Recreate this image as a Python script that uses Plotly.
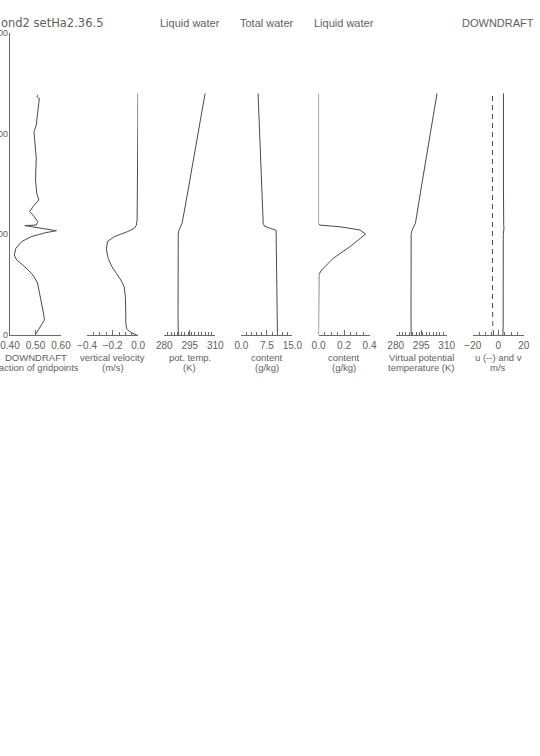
import plotly.graph_objects as go

W, H = 540, 756

# ---------------- data ----------------
# Panel 1: DOWNDRAFT fraction of gridpoints
z_frac = [0, 80, 150, 220, 380, 516, 596, 695, 745, 794, 861, 927, 977, 1017, 1036,
          1087, 1092, 1126, 1192, 1225, 1275, 1341, 1407, 1539, 1755, 1937, 2019,
          2085, 2218, 2317, 2350, 2370, 2384]
frac = [0.499, 0.520, 0.535, 0.531, 0.520, 0.508, 0.490, 0.451, 0.426, 0.417, 0.423,
        0.445, 0.483, 0.541, 0.582, 0.458, 0.503, 0.509, 0.490, 0.477, 0.490, 0.513,
        0.505, 0.500, 0.503, 0.496, 0.494, 0.503, 0.509, 0.515, 0.515, 0.505, 0.511]

# Panel 2: vertical velocity (m/s)
z_w = [0, 20, 60, 120, 215, 380, 480, 546, 620, 678, 760, 850, 930, 976, 1000, 1026,
       1060, 1090, 1142, 1400, 1800, 2100, 2400]
w = [-0.010, -0.050, -0.090, -0.097, -0.097, -0.100, -0.110, -0.136, -0.175, -0.205,
     -0.235, -0.249, -0.240, -0.188, -0.140, -0.085, -0.030, -0.014, -0.008, -0.005,
     -0.003, -0.002, -0.001]

# Panel 3: potential temperature (K)
z_th = [0, 30, 200, 600, 1000, 1040, 1070, 1110, 1400, 1800, 2100, 2400]
theta = [288.6, 288.2, 288.1, 288.1, 288.2, 288.6, 289.6, 290.5, 293.6, 297.7, 300.9, 304.0]

# Panel 4: total water content (g/kg)
z_qt = [0, 300, 600, 1000, 1040, 1060, 1080, 1110, 1400, 1800, 2100, 2400]
qt = [10.6, 10.5, 10.5, 10.4, 10.2, 8.5, 6.8, 6.4, 6.1, 5.6, 5.2, 4.9]

# Panel 5: liquid water content (g/kg)
z_ql = [0, 300, 600, 646, 700, 762, 877, 950, 1003, 1043, 1075, 1092, 1109, 1500, 2000, 2400]
ql = [0.0, 0.0, 0.003, 0.024, 0.065, 0.115, 0.246, 0.320, 0.369, 0.325, 0.168, 0.010,
      0.0, 0.0, 0.0, 0.0]

# Panel 6: virtual potential temperature (K)
z_thv = [0, 30, 200, 600, 1000, 1040, 1070, 1110, 1400, 1800, 2100, 2400]
theta_v = [289.4, 289.1, 289.0, 289.0, 289.1, 289.6, 290.6, 291.6, 294.4, 298.2, 301.2, 304.3]

# Panel 7: winds (m/s)
z_uv = [0, 40, 120, 400, 800, 1000, 1060, 1100, 1500, 2000, 2400]
u = [-3.8, -4.0, -4.4, -4.6, -4.6, -4.6, -4.6, -4.6, -4.6, -4.6, -4.6]
v = [3.6, 3.8, 3.8, 3.8, 3.8, 3.9, 4.4, 4.2, 4.0, 4.0, 4.0]

# axis ticks
x_ranges = [[0.40, 0.60], [-0.4, 0.0], [280, 310], [0, 15], [0, 0.4], [280, 310], [-20, 20]]
x_tickvals = [[0.40, 0.50, 0.60], [-0.4, -0.2, 0.0], [280, 295, 310], [0, 7.5, 15],
              [0, 0.2, 0.4], [280, 295, 310], [-20, 0, 20]]
x_ticktext = [["0.40", "0.50", "0.60"], ["−0.4", "−0.2", "0.0"], ["280", "295", "310"],
              ["0.0", "7.5", "15.0"], ["0.0", "0.2", "0.4"], ["280", "295", "310"],
              ["−20", "0", "20"]]
x_minor = [[], [-0.35, -0.3, -0.25, -0.15, -0.1, -0.05],
           [282, 284, 286, 288, 290, 292, 294, 296, 298, 300, 302, 304, 306, 308],
           [1.5, 3, 4.5, 6, 9, 10.5, 12, 13.5],
           [0.05, 0.1, 0.15, 0.25, 0.3, 0.35],
           [282, 284, 286, 288, 290, 292, 294, 296, 298, 300, 302, 304, 306, 308],
           [-15, -10, -5, 5, 10, 15]]
y_tickvals = [0, 1000, 2000, 3000]
y_ticktext = ["0", "1000", "2000", "3000"]

top_titles = ["", "", "Liquid water", "Total water", "Liquid water", "", "DOWNDRAFT"]
bottom_titles = [("DOWNDRAFT", "fraction of gridpoints"), ("vertical velocity", "(m/s)"),
                 ("pot. temp.", "(K)"), ("content", "(g/kg)"), ("content", "(g/kg)"),
                 ("Virtual potential", "temperature (K)"), ("u (--) and v", "m/s")]
main_title = "ond2 setHa2.36.5"

# ---------------- figure ----------------
LINE = "#4a4a4a"
TICK = "#6a6a6a"
TXT = "#606060"
FONT = "Liberation Sans"

left0, step, pw = 10.0, 77.14, 51.0
y_top, y_bot = 33.0, 335.0

def px(x):
    return x / W

def py(y):
    return 1 - y / H

fig = go.Figure()

series = [(frac, z_frac), (w, z_w), (theta, z_th), (qt, z_qt), (ql, z_ql), (theta_v, z_thv)]
for i, (xs, zs) in enumerate(series):
    ax = "x" if i == 0 else f"x{i+1}"
    fig.add_trace(go.Scatter(x=xs, y=zs, mode="lines", xaxis=ax, yaxis="y",
                             line=dict(color=LINE, width=1), showlegend=False,
                             hoverinfo="skip"))
fig.add_trace(go.Scatter(x=u, y=z_uv, mode="lines", xaxis="x7", yaxis="y",
                         line=dict(color=LINE, width=1, dash="5px,4px"), showlegend=False))
fig.add_trace(go.Scatter(x=v, y=z_uv, mode="lines", xaxis="x7", yaxis="y",
                         line=dict(color=LINE, width=1), showlegend=False))

layout = dict(width=W, height=H, margin=dict(l=0, r=0, t=0, b=0),
              paper_bgcolor="white", plot_bgcolor="white", showlegend=False,
              font=dict(family=FONT, color=TXT, size=10))

annotations = []
for i in range(7):
    x0 = left0 + step * i
    key = "xaxis" if i == 0 else f"xaxis{i+1}"
    layout[key] = dict(
        domain=[px(x0), px(x0 + pw)], anchor="y", range=x_ranges[i],
        tickmode="array", tickvals=x_tickvals[i], ticktext=x_ticktext[i],
        ticks="inside", ticklen=5, tickwidth=1, tickcolor=TICK,
        minor=dict(tickmode="array", tickvals=x_minor[i], ticks="inside", ticklen=3,
                   tickwidth=1, tickcolor=TICK, showgrid=False),
        showline=True, linecolor=TICK, linewidth=1, showgrid=False, zeroline=False,
        tickfont=dict(family=FONT, color=TXT, size=10), ticklabelstandoff=1,
        ticklabeloverflow="allow", automargin=False, fixedrange=True)
    cx = x0 + pw / 2
    if top_titles[i]:
        annotations.append(dict(text=top_titles[i], x=px(cx), y=py(23), xref="paper",
                                yref="paper", showarrow=False, xanchor="center",
                                yanchor="middle", font=dict(family=FONT, color=TXT, size=11)))
    l1, l2 = bottom_titles[i]
    annotations.append(dict(text=l1, x=px(cx), y=py(357), xref="paper", yref="paper",
                            showarrow=False, xanchor="center", yanchor="middle",
                            font=dict(family=FONT, color=TXT, size=9.5)))
    annotations.append(dict(text=l2, x=px(cx), y=py(367), xref="paper", yref="paper",
                            showarrow=False, xanchor="center", yanchor="middle",
                            font=dict(family=FONT, color=TXT, size=9.5)))

# y tick labels (partly cut off at the left edge as in the reference)
for val, lab in zip(y_tickvals, y_ticktext):
    annotations.append(dict(text=lab, x=px(10), y=val, xref="paper", yref="y",
                            showarrow=False, xanchor="right", yanchor="middle",
                            font=dict(family=FONT, color=TXT, size=9)))

annotations.append(dict(text=main_title, x=px(-1), y=py(23), xref="paper", yref="paper",
                        showarrow=False, xanchor="left", yanchor="middle",
                        font=dict(family="DejaVu Sans", color=TXT, size=11.5)))

layout["yaxis"] = dict(domain=[py(y_bot), py(y_top)], anchor="x", range=[0, 3000],
                       showticklabels=False, ticks="", showline=True, linecolor=TICK,
                       linewidth=1, showgrid=False, zeroline=False, automargin=False,
                       fixedrange=True)
layout["annotations"] = annotations
fig.update_layout(**layout)

fig.write_html("out.html")
